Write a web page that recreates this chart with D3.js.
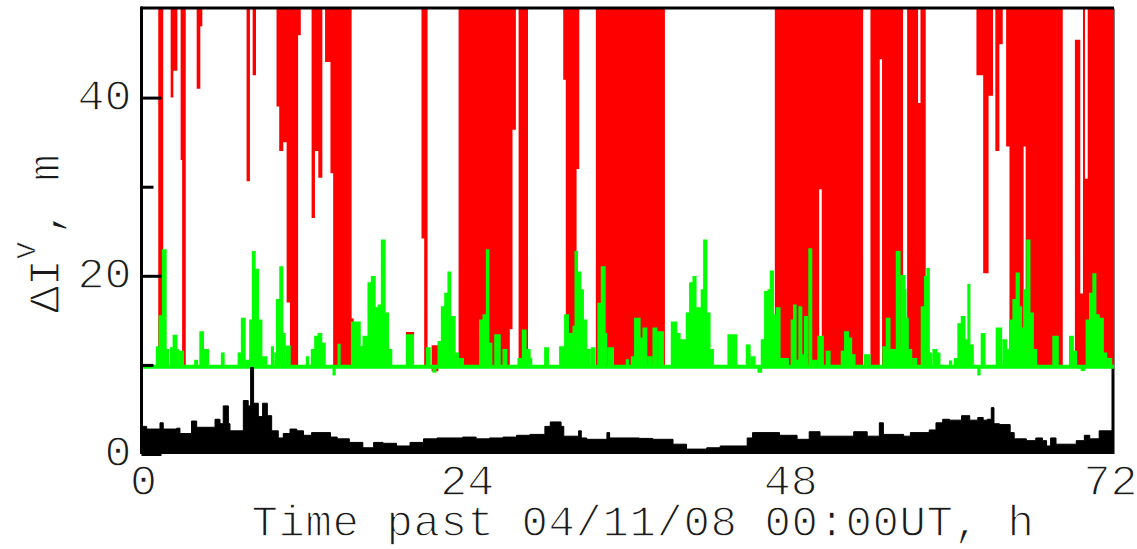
<!DOCTYPE html>
<html>
<head>
<meta charset="utf-8">
<script src="https://cdn.jsdelivr.net/npm/d3@7"></script>
<style>
  html, body { margin: 0; padding: 0; background: #fff; overflow: hidden; }
  /* thin the monospace glyphs a little by painting a white edge over them */
  .label { stroke: #fff; stroke-width: 1.3px; paint-order: normal; }
  .label .sup { stroke-width: 0.6px; }
</style>
</head>
<body>
<svg id="chart" width="1137" height="549"></svg>
<script>
// Hour ticks along the time axis and value ticks on the left axis (metres)
const hourTicks = [0, 24, 48, 72];
const valueTicks = [0, 20, 40];
const minorValueTicks = [10, 30];

// Lower trace (black): step changes, hours past 04/11/08 00:00 UT -> metres
const blackHours = [0, 0.27, 1.26, 1.5, 2.5, 2.74, 3.6, 3.98, 5.34, 5.71, 5.95, 6.33, 6.45, 7.44, 7.8, 7.98, 8.2, 8.55, 8.87, 9.22, 9.54, 10.03, 10.4, 10.9, 11.4, 11.9, 12.5, 13.9, 14.4, 15.3, 16.3, 17.1, 17.8, 18.8, 19.8, 20.8, 21.8, 23.7, 24.7, 25.7, 26.7, 27.7, 28.7, 29.8, 30.2, 31.0, 31.2, 32.3, 32.5, 32.9, 34.4, 34.6, 36.8, 37.8, 39.3, 40.3, 41.8, 42.8, 44.8, 45.2, 47.2, 48.5, 49.4, 50.2, 52.7, 53.7, 54.6, 54.9, 56.4, 56.9, 58.3, 58.8, 59.3, 59.8, 60.7, 61.3, 61.9, 62.3, 62.6, 62.9, 63.1, 63.5, 64.3, 64.6, 65.5, 66.2, 66.7, 67.0, 67.3, 67.7, 69.2, 69.8, 70.2, 70.9, 71.8, 72];
const blackValues = [3.1, 2.8, 3.5, 2.8, 2.9, 2.3, 3.7, 3.0, 3.9, 3.4, 5.4, 3.4, 2.6, 6.0, 5.4, 9.7, 5.7, 4.2, 5.7, 4.3, 2.6, 1.8, 2.3, 2.8, 2.6, 2.1, 2.4, 1.9, 1.7, 1.3, 0.7, 1.3, 1.2, 0.9, 1.3, 1.7, 1.8, 1.9, 1.7, 1.8, 1.9, 2.1, 2.2, 3.1, 3.6, 3.1, 2.0, 2.6, 1.8, 1.65, 2.4, 1.8, 1.75, 1.65, 1.1, 0.55, 0.7, 0.9, 1.8, 2.4, 2.1, 1.65, 2.5, 2.0, 2.5, 2.0, 3.5, 2.2, 2.0, 2.4, 2.7, 3.5, 3.9, 3.8, 4.3, 3.8, 4.1, 3.8, 3.9, 5.2, 3.4, 3.3, 2.4, 1.7, 1.5, 1.8, 1.5, 0.9, 1.8, 1.1, 1.5, 2.1, 1.7, 2.6, 2.6, 2.6];

// Green trace (offset by +10 m): step changes
const greenHours = [0, 1.01, 1.21, 1.46, 1.7, 1.88, 2.05, 2.25, 2.5, 2.62, 2.74, 2.99, 3.85, 4.03, 4.23, 4.47, 4.84, 5.83, 6.0, 7.07, 7.31, 7.56, 7.68, 7.93, 8.13, 8.3, 8.55, 8.8, 9.17, 9.54, 9.66, 9.79, 9.91, 10.16, 10.35, 10.53, 10.65, 10.9, 12.13, 12.26, 12.5, 12.75, 13.0, 13.24, 13.49, 14.11, 14.23, 14.48, 14.6, 15.47, 16.09, 16.33, 16.7, 16.95, 17.2, 17.45, 17.69, 17.94, 18.19, 18.43, 19.55, 20.04, 21.03, 21.28, 21.52, 21.7, 21.89, 22.14, 22.39, 22.63, 22.8, 23.13, 23.38, 23.5, 23.75, 24.98, 25.23, 25.48, 25.63, 25.85, 26.1, 26.47, 26.71, 26.96, 27.82, 28.07, 28.15, 28.39, 28.69, 28.81, 29.8, 30.05, 30.91, 31.28, 31.53, 31.9, 32.05, 32.2, 32.45, 32.64, 32.89, 33.14, 33.26, 33.51, 33.75, 34.0, 34.25, 34.37, 34.5, 34.87, 35.85, 35.98, 36.23, 36.47, 36.84, 37.09, 37.34, 37.46, 37.71, 37.83, 38.08, 38.2, 38.57, 39.19, 39.56, 39.81, 40.3, 40.55, 40.8, 40.99, 41.41, 41.59, 41.79, 42.03, 42.28, 43.39, 44.01, 44.75, 45.0, 45.12, 45.37, 45.62, 45.86, 46.11, 46.36, 46.53, 46.73, 46.97, 47.22, 47.84, 48.08, 48.26, 48.41, 48.65, 48.83, 49.07, 49.25, 49.39, 49.57, 49.94, 50.06, 50.43, 50.68, 50.93, 51.79, 52.04, 52.29, 52.53, 52.78, 53.52, 53.89, 54.88, 55.13, 55.37, 55.87, 56.12, 56.24, 56.49, 56.56, 56.73, 56.98, 57.1, 57.35, 57.72, 57.97, 58.14, 58.29, 58.46, 58.59, 58.83, 59.08, 59.82, 59.95, 60.19, 60.44, 60.69, 60.93, 61.18, 61.3, 61.55, 61.92, 62.05, 62.17, 62.42, 63.28, 63.65, 63.78, 64.02, 64.27, 64.52, 64.76, 64.96, 65.13, 65.38, 65.55, 65.75, 66.0, 66.25, 67.48, 67.85, 68.72, 68.97, 69.21, 69.58, 69.8, 69.95, 70.2, 70.45, 70.64, 70.89, 71.19, 71.44, 71.56, 71.81, 72];
const greenValues = [9.8, 12, 15.5, 22.9, 11.7, 9.8, 11.9, 13.3, 11.7, 9.8, 11.5, 9.8, 10.5, 9.8, 13.7, 11.7, 9.8, 11.3, 9.8, 11.3, 15.2, 9.8, 10.5, 15, 22.7, 20.7, 15, 10.9, 9.8, 12, 9.8, 11.3, 17.3, 21, 13.5, 9.8, 12.1, 9.8, 10.9, 9.8, 11.7, 13.2, 13.5, 12.4, 9.8, 8.9, 9.8, 12.3, 9.8, 14.8, 12, 13.2, 19.2, 19.9, 16.4, 16.7, 24, 15.8, 11.7, 9.8, 13.35, 9.8, 11.9, 9.8, 9.2, 9.8, 12.6, 16.5, 18, 20.4, 15.4, 11.3, 9.8, 10.7, 9.8, 15, 15.6, 22.9, 12.4, 9.8, 13.35, 9.8, 11.7, 9.8, 10.7, 9.8, 13.9, 11.7, 10.7, 9.8, 11.9, 9.8, 12, 15.6, 13.5, 14.3, 22.7, 20.4, 18.4, 15, 11.7, 9.8, 11.9, 9.8, 16.9, 21, 13.5, 9.8, 11.9, 9.8, 10.55, 9.8, 10.9, 15.2, 13, 14.1, 9.8, 10.9, 9.8, 14.1, 9.8, 13.7, 9.8, 14.8, 13.5, 12.8, 15.8, 19.2, 19.9, 16.4, 18.4, 24, 15.8, 11.7, 9.8, 13.35, 9.8, 12.2, 9.8, 10.9, 9.8, 9.2, 12.8, 18.2, 18.4, 20.5, 15.6, 16.4, 10.7, 9.8, 15, 16.7, 10.5, 16.5, 11.1, 15.4, 9.8, 23, 10.5, 9.8, 13.2, 9.8, 11.5, 9.8, 11.5, 13.7, 13, 11.1, 9.8, 11.1, 9.8, 12, 15.2, 11.7, 22.7, 12, 20, 18.4, 15.2, 11.7, 9.8, 10.7, 9.8, 16.5, 19.9, 20.8, 11.3, 9.8, 11.7, 11.3, 9.8, 10.4, 9.8, 10.7, 14.6, 15.4, 12.8, 19, 12.2, 9.8, 8.9, 9.8, 13.5, 9.8, 14.1, 9.8, 12.8, 11.7, 15, 17.3, 20.3, 16.5, 14.1, 18.4, 24, 15.8, 11.7, 9.8, 13.2, 9.8, 13.2, 11.5, 9.8, 9.4, 9.8, 15, 18, 20.2, 15.6, 15.2, 11.3, 9.8, 10.7, 9.8, 9.8];

// Red trace (offset by +10 m): per interval, the lowest and highest value reached
const redHours = [0, 1.13, 1.5, 2.05, 2.25, 2.55, 2.79, 2.9, 3.17, 3.98, 4.25, 4.4, 7.68, 7.93, 8.13, 8.38, 9.9, 10.1, 10.4, 10.65, 10.9, 11.5, 11.7, 12.5, 12.75, 13.0, 13.3, 13.5, 13.9, 14.1, 15.47, 15.62, 19.5, 20.1, 20.65, 20.85, 21.1, 21.4, 21.9, 23.4, 27.2, 27.4, 27.65, 27.85, 28.55, 31.16, 31.35, 32.15, 32.35, 33.58, 38.7, 46.85, 50.14, 50.33, 53.4, 53.94, 54.63, 54.8, 56.36, 56.66, 57.47, 57.65, 58.04, 61.8, 62.3, 62.7, 63.03, 63.2, 63.5, 63.75, 64.0, 64.25, 65.3, 65.45, 68.2, 69.1, 69.5, 69.7, 69.85, 70.05, 72];
const redLow = [10, 10, 10, 40, 43, 10, 33, 10, 10, 41, 48, 10, 30.6, 10, 42.5, 10, 39, 34, 35, 17, 10, 47, 10, 26.5, 34, 31, 10, 44, 31.5, 10, 10, 10, 10, 10, 24.2, 10, 10, 9.3, 10, 10, 14, 36.4, 10, 10, 10, 42, 10, 32, 10, 10, 10, 10, 29.7, 10, 10, 10, 44.3, 10, 10, 10, 10, 10, 10, 42.5, 20.3, 40.2, 10, 34, 46, 10, 34.5, 10, 34.5, 10, 10, 10, 10, 10, 10, 10, 10];
const redHigh = [10, 60, 10, 60, 60, 10, 60, 60, 10, 60, 60, 10, 60, 10, 60, 10, 60, 60, 60, 60, 60, 60, 10, 60, 60, 60, 10, 60, 60, 60, 15.2, 10, 13.7, 10, 60, 60, 10, 12.2, 10, 60, 60, 60, 10, 60, 10, 60, 60, 60, 10, 60, 10, 60, 60, 60, 10, 60, 60, 60, 10, 60, 39.4, 60, 10, 60, 60, 60, 10, 60, 60, 10, 60, 60, 60, 60, 10, 46.5, 18, 60, 30.9, 60, 60];

const svg = d3.select("#chart");
const font = "'Liberation Mono', 'DejaVu Sans Mono', monospace";
const textColor = "#1a1a1a";

const x = d3.scaleLinear().domain([0, 72]).range([143, 1114]);
const y = d3.scaleLinear().domain([0, 50]).range([454, 8.5]);

const [x0, x1] = x.range();
const [yb, yt] = y.range();

// Right-hand frame edge sits beneath the traces
svg.append("line")
  .attr("x1", x1 - 1).attr("x2", x1 - 1)
  .attr("y1", yt).attr("y2", yb)
  .attr("stroke", "#000").attr("stroke-width", 3);

svg.append("defs").append("clipPath").attr("id", "plotClip")
  .append("rect")
  .attr("x", x0).attr("y", yt)
  .attr("width", x1 - x0).attr("height", yb - yt);

const plot = svg.append("g").attr("clip-path", "url(#plotClip)");

// Red envelope
const redData = redHours.map((h, i) => ({ h, lo: redLow[i], hi: redHigh[i] }));
plot.append("path")
  .datum(redData)
  .attr("fill", "#ff0000")
  .attr("d", d3.area()
    .curve(d3.curveStepAfter)
    .x(d => x(d.h))
    .y0(d => y(d.lo))
    .y1(d => y(d.hi)));

// Green trace: filled steps from its quiet level, outlined, plus the quiet-level line
const greenBase = greenValues[0];
const greenData = greenHours.map((h, i) => ({ h, v: greenValues[i] }));
plot.append("path")
  .datum(greenData)
  .attr("fill", "#00ff00")
  .attr("stroke", "#00ff00")
  .attr("stroke-width", 1.5)
  .attr("d", d3.area()
    .curve(d3.curveStepAfter)
    .x(d => x(d.h))
    .y0(y(greenBase))
    .y1(d => y(d.v)));
plot.append("line")
  .attr("x1", x0).attr("x2", x1)
  .attr("y1", y(greenBase)).attr("y2", y(greenBase))
  .attr("stroke", "#00ff00").attr("stroke-width", 4);

// Black trace filled down to zero
const blackData = blackHours.map((h, i) => ({ h, v: blackValues[i] }));
plot.append("path")
  .datum(blackData)
  .attr("fill", "#000")
  .attr("stroke", "#000")
  .attr("stroke-width", 1)
  .attr("d", d3.area()
    .curve(d3.curveStepAfter)
    .x(d => x(d.h))
    .y0(y(0))
    .y1(d => y(d.v)));

// Top edge and left axis line
svg.append("line")
  .attr("x1", x0 - 2).attr("x2", x1)
  .attr("y1", yt - 0.5).attr("y2", yt - 0.5)
  .attr("stroke", "#000").attr("stroke-width", 3);
svg.append("line")
  .attr("x1", x0 - 1.5).attr("x2", x0 - 1.5)
  .attr("y1", yt - 2).attr("y2", yb)
  .attr("stroke", "#000").attr("stroke-width", 3);

// Left axis: labelled major ticks pointing inwards, shorter minor ticks
const yAxis = svg.append("g")
  .attr("transform", `translate(${x0 - 1.5},0)`)
  .call(d3.axisLeft(y).tickValues(valueTicks).tickSizeInner(-20).tickSizeOuter(0).tickPadding(10));
yAxis.select(".domain").remove();
yAxis.selectAll(".tick line").attr("stroke", "#000").attr("stroke-width", 3);
yAxis.selectAll(".tick text")
  .attr("class", "label")
  .attr("font-family", font).attr("font-size", 45).attr("fill", textColor)
  .attr("dy", "0.26em");

const yMinor = svg.append("g")
  .attr("transform", `translate(${x0 - 1.5},0)`)
  .call(d3.axisLeft(y).tickValues(minorValueTicks).tickSizeInner(-12).tickSizeOuter(0).tickFormat(""));
yMinor.select(".domain").remove();
yMinor.selectAll(".tick line").attr("stroke", "#000").attr("stroke-width", 3);

// Time axis labels (the last one nudged so it stays inside the canvas)
const xAxis = svg.append("g")
  .attr("transform", `translate(0,${yb})`)
  .call(d3.axisBottom(x).tickValues(hourTicks).tickSize(0).tickPadding(0));
xAxis.select(".domain").remove();
xAxis.selectAll(".tick text")
  .attr("class", "label")
  .attr("font-family", font).attr("font-size", 45).attr("fill", textColor)
  .attr("y", 41).attr("dy", 0)
  .attr("x", d => d === hourTicks[hourTicks.length - 1] ? -4 : 0);

// Axis titles
svg.append("text")
  .attr("class", "label")
  .attr("x", 643).attr("y", 536)
  .attr("text-anchor", "middle")
  .attr("font-family", font).attr("font-size", 44).attr("fill", textColor)
  .attr("letter-spacing", 0.6)
  .text("Time past 04/11/08 00:00UT, h");

const yTitle = svg.append("text")
  .attr("class", "label")
  .attr("transform", "translate(59,313) rotate(-90)")
  .attr("font-family", font).attr("font-size", 45).attr("fill", textColor);
yTitle.append("tspan").text("ΔI");
yTitle.append("tspan").attr("class", "sup").attr("font-size", 28).attr("dy", -24).text("V");
yTitle.append("tspan").attr("dy", 24).attr("dx", 7).text(", m");
</script>
</body>
</html>
